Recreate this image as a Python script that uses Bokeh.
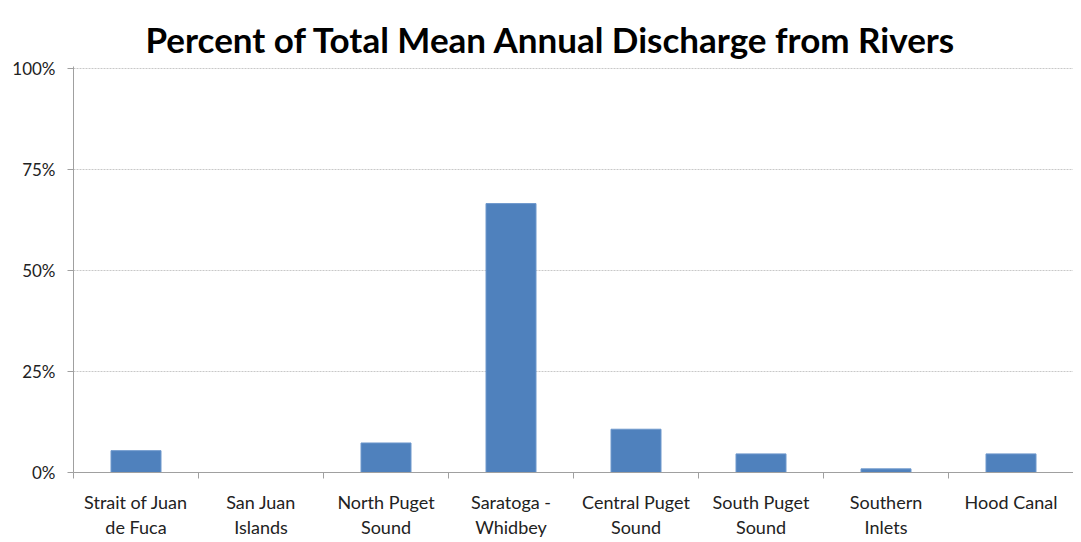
from bokeh.plotting import figure
from bokeh.models import ColumnDataSource, FixedTicker, Range1d, Title
from bokeh.embed import file_html
from bokeh.resources import INLINE

categories = ["Strait of Juan de Fuca", "San Juan Islands", "North Puget Sound",
              "Saratoga - Whidbey", "Central Puget Sound", "South Puget Sound",
              "Southern Inlets", "Hood Canal"]
tick_labels = ["Strait of Juan\nde Fuca", "San Juan\nIslands", "North Puget\nSound",
               "Saratoga -\nWhidbey", "Central Puget\nSound", "South Puget\nSound",
               "Southern\nInlets", "Hood Canal"]
values = [5.4, 0.0, 7.3, 66.5, 10.7, 4.6, 0.9, 4.6]
y_ticks = [0, 25, 50, 75, 100]
y_tick_labels = ["0%", "25%", "50%", "75%", "100%"]

x_pos = [i + 0.5 for i in range(len(categories))]
src = ColumnDataSource(dict(x=x_pos, top=values, name=categories))

p = figure(width=1073, height=540, output_backend="svg", toolbar_location=None,
           x_range=Range1d(0, len(categories)), y_range=Range1d(0, 100.4),
           min_border_left=73, min_border_right=0, min_border_top=66, min_border_bottom=67)
p.title = Title(text="Percent of Total Mean Annual Discharge from Rivers", align="left",
                text_font="Lato", text_font_size="35px", text_font_style="bold",
                text_color="#000000", offset=72, standoff=10, vertical_align="top")

p.vbar(x="x", top="top", bottom=0, width=0.4, source=src,
       fill_color="#4F81BD", line_color="#6E98CC", line_width=1)

# x axis
p.xaxis.ticker = FixedTicker(ticks=x_pos, minor_ticks=list(range(len(categories) + 1)))
p.xaxis.major_label_overrides = {x: lab for x, lab in zip(x_pos, tick_labels)}
p.xaxis.major_tick_line_color = None
p.xaxis.minor_tick_line_color = "#A0A0A0"
p.xaxis.minor_tick_in = 0
p.xaxis.minor_tick_out = 6
p.xaxis.axis_line_color = "#A0A0A0"
p.xaxis.major_label_text_font = "Lato"
p.xaxis.major_label_text_font_size = "18px"
p.xaxis.major_label_text_color = "#222222"
p.xaxis.major_label_standoff = 12
p.xaxis.major_label_text_line_height = 1.15

# y axis
p.yaxis.ticker = FixedTicker(ticks=y_ticks)
p.yaxis.major_label_overrides = {t: lab for t, lab in zip(y_ticks, y_tick_labels)}
p.yaxis.axis_line_color = "#A0A0A0"
p.yaxis.major_tick_line_color = "#A0A0A0"
p.yaxis.major_tick_in = 0
p.yaxis.major_tick_out = 6
p.yaxis.minor_tick_line_color = None
p.yaxis.major_label_text_font = "Lato"
p.yaxis.major_label_text_font_size = "17px"
p.yaxis.major_label_text_color = "#222222"
p.yaxis.major_label_standoff = 12

p.xgrid.grid_line_color = None
p.ygrid.grid_line_color = "#C8C8C8"
p.ygrid.grid_line_dash = "2 1"
p.outline_line_color = None

open("out.html", "w").write(file_html(p, INLINE))
